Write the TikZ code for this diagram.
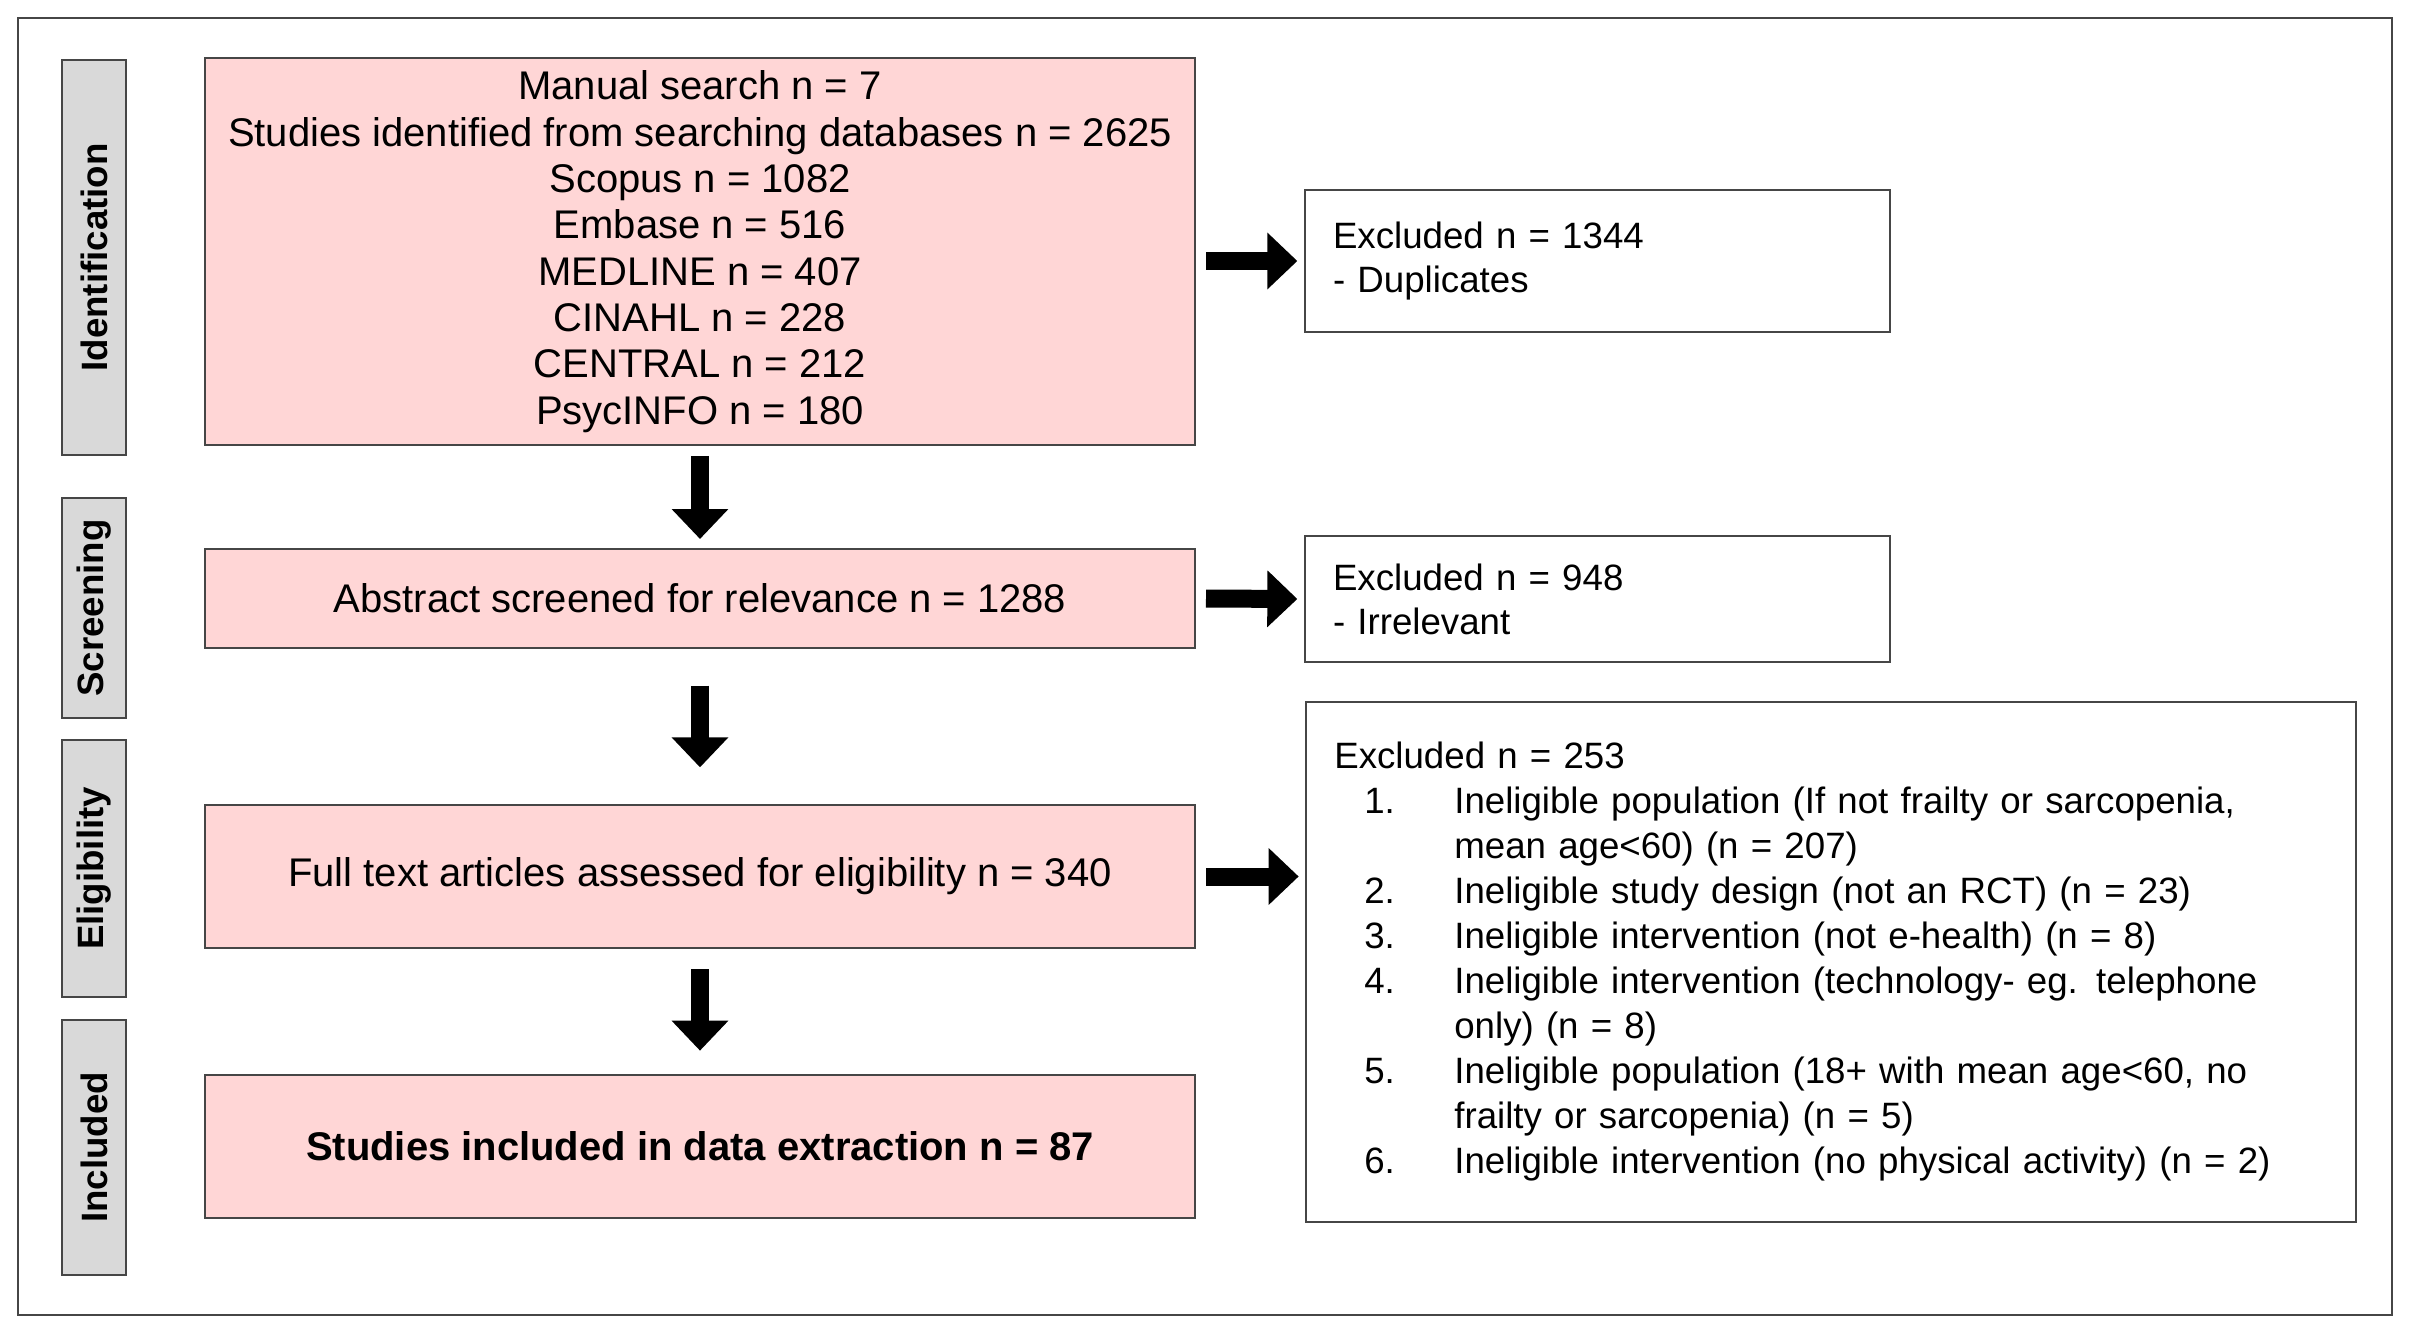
\documentclass[tikz,border=0pt]{standalone}
\usepackage{fontspec}
\setmainfont{Liberation Sans}
\usepackage{array}
\usetikzlibrary{arrows.meta}
\definecolor{boxpink}{RGB}{255,214,214}
\definecolor{labgray}{RGB}{217,217,217}
\definecolor{edge}{RGB}{70,70,70}
\tikzset{
  side/.style={draw=edge,line width=0.6pt,fill=labgray,minimum width=19.2pt,font=\fontsize{11}{12}\selectfont\bfseries},
  stage/.style={draw=edge,line width=0.6pt,fill=boxpink,minimum width=297pt,align=center,inner sep=0pt},
  excl/.style={draw=edge,line width=0.6pt,fill=white,align=left,inner sep=8.4pt,font=\fontsize{11}{13.2}\selectfont},
  block/.style={line width=5.4pt,-{Triangle[width=16.5pt,length=9pt]}}
}
\begin{document}
\begin{tikzpicture}[x=0.3pt,y=-0.3pt]
        \useasboundingbox (0,0) rectangle (2410,1332);
        \draw [edge,line width=0.6pt] (18,18) rectangle (2392,1315);
        % stage labels
        \node [side,minimum height=118.5pt] (ident) at (94,257.5) {\rotatebox{90}{Identification}};
        \node [side,minimum height=66pt] (screen) at (94,608) {\rotatebox{90}{Screening}};
        \node [side,minimum height=77.1pt] (elig) at (94,868.5) {\rotatebox{90}{Eligibility}};
        \node [side,minimum height=76.5pt] (inc) at (94,1147.5) {\rotatebox{90}{Included}};
        % main boxes
        \node [stage,minimum height=116.1pt,font=\fontsize{12}{13.9}\selectfont] (rec) at (700,251.5) {Manual search n = 7\\Studies identified from searching databases n = 2625\\Scopus n = 1082\\Embase n = 516\\MEDLINE n = 407\\CINAHL n = 228\\CENTRAL n = 212\\PsycINFO n = 180};
        \node [stage,minimum height=29.7pt,font=\fontsize{12}{14}\selectfont] (abs) at (700,598.5) {Abstract screened for relevance n = 1288};
        \node [stage,minimum height=42.9pt,font=\fontsize{12}{14}\selectfont] (full) at (700,876.5) {Full text articles assessed for eligibility n = 340};
        \node [stage,minimum height=42.9pt,font=\fontsize{12}{14}\selectfont\bfseries] (final) at (700,1146.5) {Studies included in data extraction n = 87};
        % exclusions
        \node [excl,text width=158.7pt,minimum height=42.6pt] (exdup) at (1597.5,261) {Excluded n = 1344\\- Duplicates};
        \node [excl,text width=158.7pt,minimum height=33.6pt] (exirr) at (1597.5,599) {Excluded n = 948\\- Irrelevant};
        \node [excl,text width=298pt,minimum height=156pt,font=\fontsize{11}{13.5}\selectfont] (exfull) at (1831,962) {%
          \begin{tabular}{@{}p{36pt}@{}>{\raggedright\arraybackslash}p{262pt}@{}}
          \multicolumn{2}{@{}l}{Excluded n = 253}\\
          \hspace{9pt}1. & Ineligible population (If not frailty or sarcopenia,\newline mean age<60) (n = 207)\\
          \hspace{9pt}2. & Ineligible study design (not an RCT) (n = 23)\\
          \hspace{9pt}3. & Ineligible intervention (not e-health) (n = 8)\\
          \hspace{9pt}4. & Ineligible intervention (technology- eg. telephone\newline only) (n = 8)\\
          \hspace{9pt}5. & Ineligible population (18+ with mean age<60, no\newline frailty or sarcopenia) (n = 5)\\
          \hspace{9pt}6. & Ineligible intervention (no physical activity) (n~=~2)
          \end{tabular}};
        % arrows
        \draw [block] (rec.east |- exdup) ++(3pt,0) -- ([xshift=-2pt]exdup.west);
        \draw [block] ([xshift=3pt]abs.east) -- ([xshift=-2pt]exirr.west);
        \draw [block] ([xshift=3pt]full.east) -- ([xshift=-2pt]exfull.west |- full);
        \draw [block] ([yshift=-3pt]rec.south) -- ([yshift=2.7pt]abs.north);
        \draw [block] ([yshift=-11pt]abs.south) -- ([yshift=11pt]full.north);
        \draw [block] ([yshift=-6pt]full.south) -- ([yshift=7pt]final.north);
\end{tikzpicture}
\end{document}
